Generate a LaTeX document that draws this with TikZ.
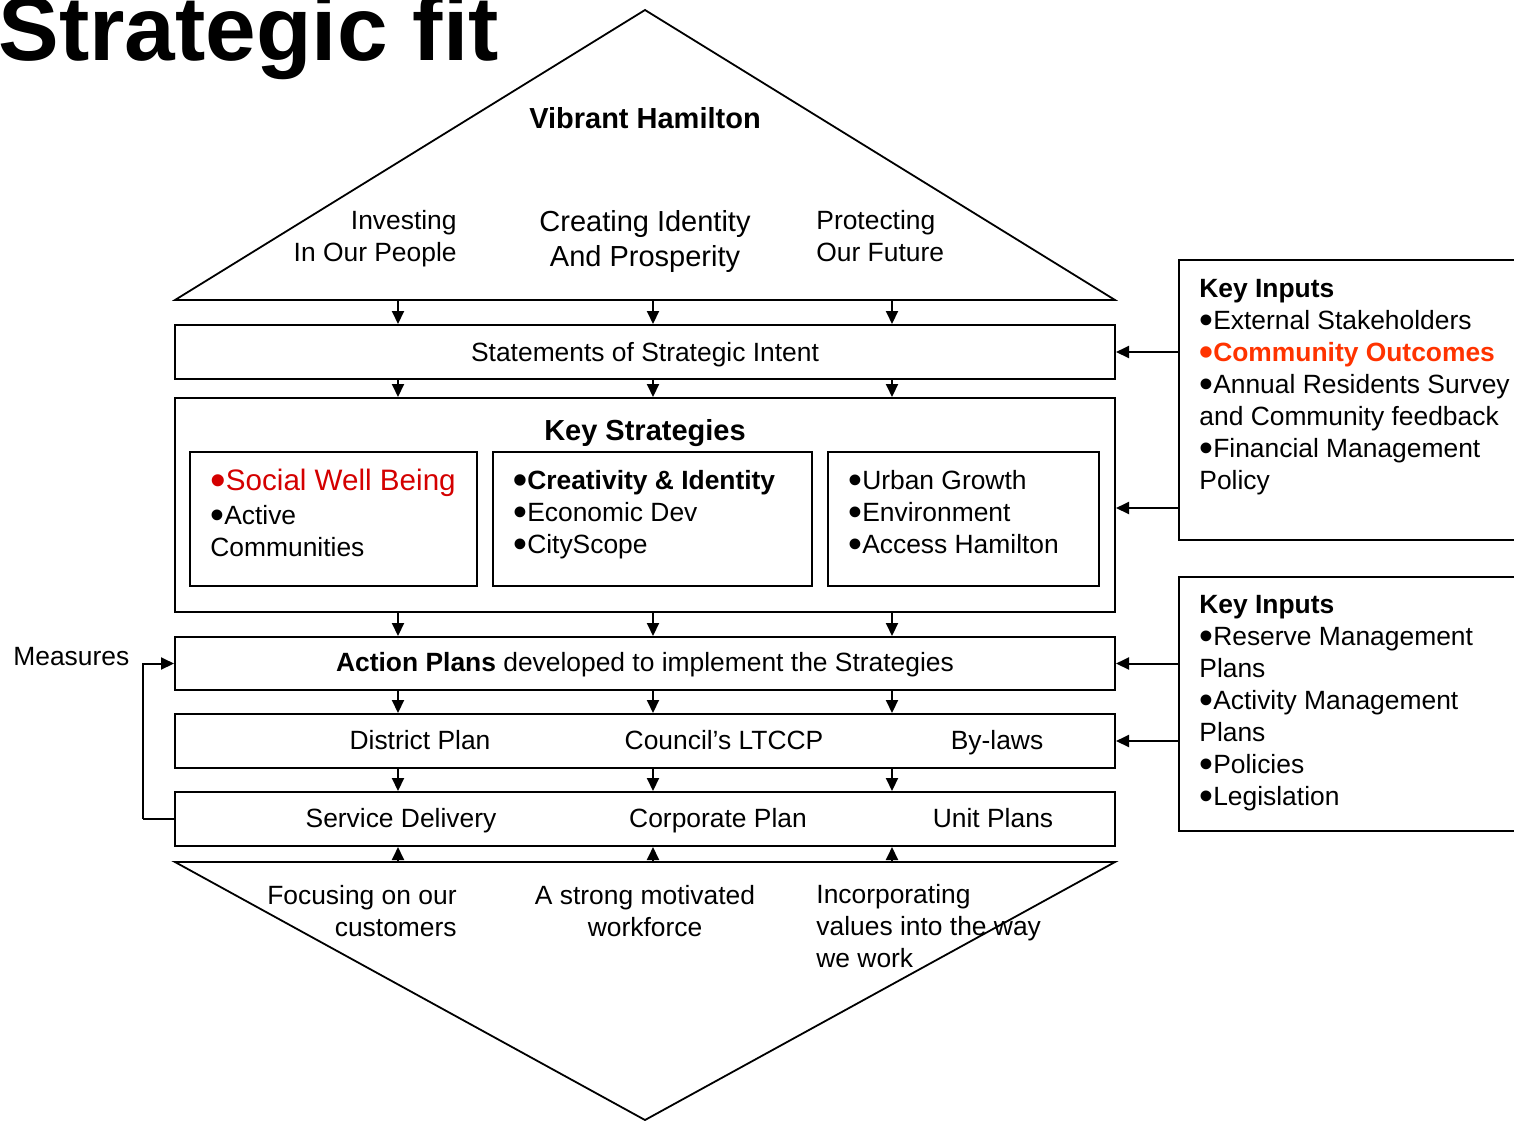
\documentclass[tikz,border=0pt]{standalone}
\usepackage{fontspec}
\usepackage{graphicx}
\setmainfont{Liberation Sans}
\usetikzlibrary{arrows.meta}
\definecolor{swbred}{RGB}{212,0,0}
\definecolor{cored}{RGB}{255,51,0}
\newcommand\bul{\smash{\raisebox{-0.17em}{\scalebox{1.5}{•}}}}
\tikzset{
  box/.style={draw, line width=1pt, inner sep=0pt},
  tri/.style={draw, line width=0.9pt, line join=miter},
  arr/.style={line width=1pt, -{Triangle[length=6.5pt,width=6pt]}},
  txt/.style={inner sep=0pt, font=\fontsize{13.2}{16}\selectfont},
  bigtxt/.style={inner sep=0pt, font=\fontsize{14.5}{17.5}\selectfont},
  bold/.style={inner sep=0pt, font=\fontsize{14.5}{17.5}\selectfont\bfseries},
}
\begin{document}
\begin{tikzpicture}[x=0.5pt,y=-0.5pt]
\useasboundingbox (0,0) rectangle (1514,1120);

% title
\node[inner sep=0pt, anchor=base west, font=\fontsize{45.5}{50}\selectfont\bfseries] (title) at (-2,60) {Strategic fit};

% top triangle
\coordinate (ta) at (645,10);
\coordinate (tl) at (175,300);
\coordinate (tr) at (1115,300);
\draw[tri] (tl) -- (ta) -- (tr) -- cycle;
\coordinate (c1) at (398,300);
\coordinate (c2) at (653,300);
\coordinate (c3) at (892,300);

\node[bold, anchor=base] (vh) at (645,128) {Vibrant Hamilton};
\node[txt, anchor=base east] (inv1) at (457,229) {Investing};
\node[txt, anchor=base east] (inv2) at (457,261) {In Our People};
\node[bigtxt, anchor=base] (cre1) at (645,231) {Creating Identity};
\node[bigtxt, anchor=base] (cre2) at (645,266) {And Prosperity};
\node[txt, anchor=base west] (pro1) at (816,229) {Protecting};
\node[txt, anchor=base west] (pro2) at (816,261) {Our Future};

% boxes
\node[box, minimum width=470pt, minimum height=27pt] (stmt) at (645,352) {};
\node[txt, anchor=base] (stmtt) at (645,361) {Statements of Strategic Intent};

\node[box, minimum width=470pt, minimum height=107pt] (ks) at (645,505) {};
\node[bold, anchor=base] (kst) at (645,440) {Key Strategies};

\node[box, minimum width=143.5pt, minimum height=67pt] (s1) at (333.5,519) {};
\node[box, minimum width=159.5pt, minimum height=67pt] (s2) at (652.5,519) {};
\node[box, minimum width=135.5pt, minimum height=67pt] (s3) at (963.5,519) {};

\node[inner sep=0pt, anchor=base west, font=\fontsize{14.8}{17}\selectfont, text=swbred] (s1a) at (210,490) {\bul Social Well Being};
\node[txt, anchor=base west] (s1b) at (210,524) {\bul Active};
\node[txt, anchor=base west] (s1c) at (210,556) {Communities};

\node[txt, anchor=base west, font=\fontsize{13.2}{16}\selectfont\bfseries] (s2a) at (513,489) {\bul Creativity \& Identity};
\node[txt, anchor=base west] (s2b) at (513,521) {\bul Economic Dev};
\node[txt, anchor=base west] (s2c) at (513,553) {\bul CityScope};

\node[txt, anchor=base west] (s3a) at (848,489) {\bul Urban Growth};
\node[txt, anchor=base west] (s3b) at (848,521) {\bul Environment};
\node[txt, anchor=base west] (s3c) at (848,553) {\bul Access Hamilton};

\node[box, minimum width=470pt, minimum height=26.5pt] (act) at (645,663.5) {};
\node[txt, anchor=base] (actt) at (645,671) {\textbf{Action Plans} developed to implement the Strategies};

\node[box, minimum width=470pt, minimum height=27pt] (dist) at (645,741) {};
\node[txt, anchor=base] (dist1) at (420,749) {District Plan};
\node[txt, anchor=base] (dist2) at (724,749) {Council’s LTCCP};
\node[txt, anchor=base] (dist3) at (997,749) {By-laws};

\node[box, minimum width=470pt, minimum height=27pt] (serv) at (645,819) {};
\node[txt, anchor=base] (serv1) at (401,827) {Service Delivery};
\node[txt, anchor=base] (serv2) at (718,827) {Corporate Plan};
\node[txt, anchor=base] (serv3) at (993,827) {Unit Plans};

% bottom triangle
\coordinate (ba) at (645,1120);
\coordinate (bl) at (175,862);
\coordinate (br) at (1115,862);
\draw[tri] (bl) -- (ba) -- (br) -- cycle;
\coordinate (d1) at (398,862);
\coordinate (d2) at (653,862);
\coordinate (d3) at (892,862);

\node[txt, anchor=base east] (foc1) at (457,904) {Focusing on our};
\node[txt, anchor=base east] (foc2) at (457,936) {customers};
\node[txt, anchor=base] (wrk1) at (645,904) {A strong motivated};
\node[txt, anchor=base] (wrk2) at (645,936) {workforce};
\node[txt, anchor=base west] (inc1) at (816,903) {Incorporating};
\node[txt, anchor=base west] (inc2) at (816,935) {values into the way};
\node[txt, anchor=base west] (inc3) at (816,967) {we work};

% vertical arrows
\foreach \c in {c1,c2,c3} {
  \draw[arr] (\c) -- (\c |- stmt.north);
  \draw[arr] (\c |- stmt.south) -- (\c |- ks.north);
  \draw[arr] (\c |- ks.south) -- (\c |- act.north);
  \draw[arr] (\c |- act.south) -- (\c |- dist.north);
  \draw[arr] (\c |- dist.south) -- (\c |- serv.north);
}
\foreach \d in {d1,d2,d3} {
  \draw[arr] (\d) -- (\d |- serv.south);
}

% key inputs 1
\node[box, minimum width=170.5pt, minimum height=140pt] (ki1) at (1349.5,400) {};
\node[txt, anchor=base west, font=\fontsize{13.2}{16}\selectfont\bfseries] (k1a) at (1199,297) {Key Inputs};
\node[txt, anchor=base west] (k1b) at (1199,329) {\bul External Stakeholders};
\node[txt, anchor=base west, font=\fontsize{13.2}{16}\selectfont\bfseries, text=cored] (k1c) at (1199,361) {\bul Community Outcomes};
\node[txt, anchor=base west] (k1d) at (1199,393) {\bul Annual Residents Survey};
\node[txt, anchor=base west] (k1e) at (1199,425) {and Community feedback};
\node[txt, anchor=base west] (k1f) at (1199,457) {\bul Financial Management};
\node[txt, anchor=base west] (k1g) at (1199,489) {Policy};

% key inputs 2
\node[box, minimum width=170.5pt, minimum height=127pt] (ki2) at (1349.5,704) {};
\node[txt, anchor=base west, font=\fontsize{13.2}{16}\selectfont\bfseries] (k2a) at (1199,613) {Key Inputs};
\node[txt, anchor=base west] (k2b) at (1199,645) {\bul Reserve Management};
\node[txt, anchor=base west] (k2c) at (1199,677) {Plans};
\node[txt, anchor=base west] (k2d) at (1199,709) {\bul Activity Management};
\node[txt, anchor=base west] (k2e) at (1199,741) {Plans};
\node[txt, anchor=base west] (k2f) at (1199,773) {\bul Policies};
\node[txt, anchor=base west] (k2g) at (1199,805) {\bul Legislation};

% side arrows
\draw[arr] (ki1.west |- stmt.east) -- (stmt.east);
\draw[arr] (ki1.west |- 0,508) -- (ks.east |- 0,508);
\draw[arr] (ki2.west |- act.east) -- (act.east);
\draw[arr] (ki2.west |- dist.east) -- (dist.east);

% measures
\node[txt, anchor=base west] (meas) at (13,665) {Measures};
\coordinate (mv) at (143,819);
\draw[line width=1pt] (serv.west) -- (mv);
\draw[arr] (mv) |- (act.west);
\end{tikzpicture}
\end{document}
